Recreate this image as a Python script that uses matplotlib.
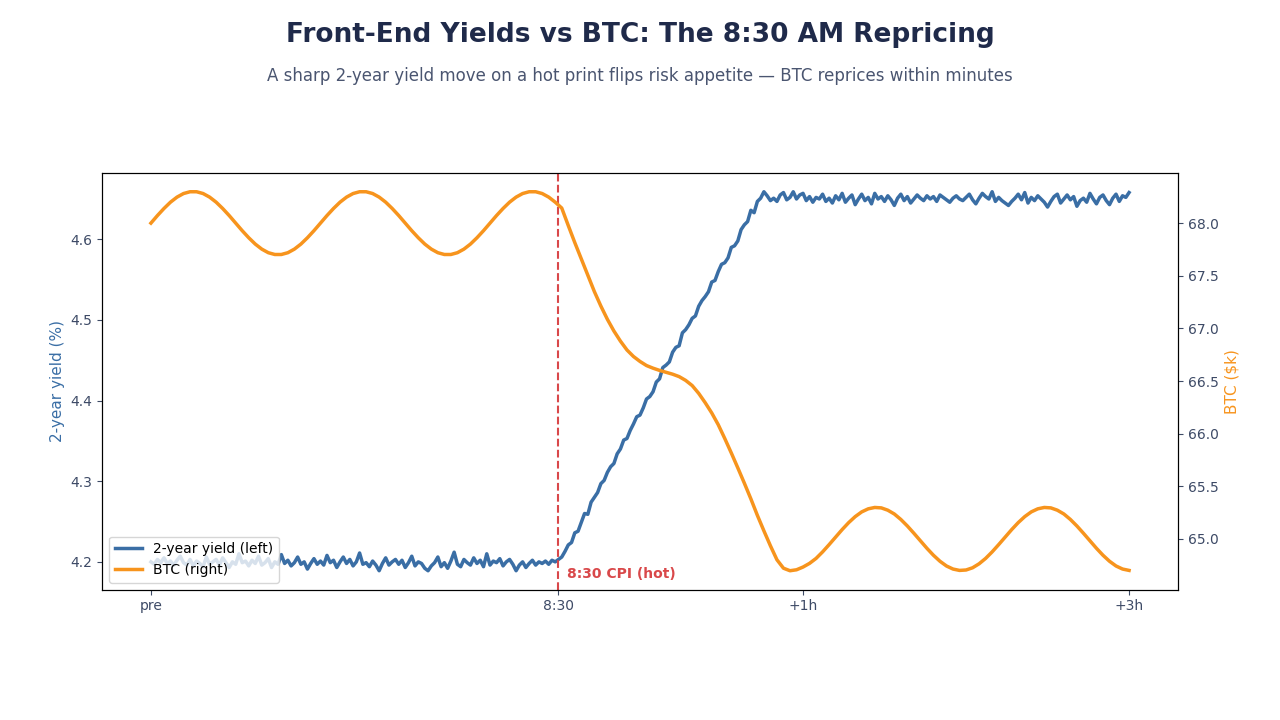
import numpy as np
import matplotlib
matplotlib.use("Agg")
import matplotlib.pyplot as plt

# x positions: index steps, 8:30 print at 125
tick_pos = [0, 125, 200, 300]
tick_labels = ['pre', '8:30', '+1h', '+3h']
cpi_x = 125

# 2-year yield (%), one value per step (x = 0..300)
yield_pre = [4.200, 4.197, 4.203, 4.199, 4.205, 4.198, 4.201, 4.196, 4.202, 4.207,
             4.199, 4.196, 4.203, 4.195, 4.201, 4.198, 4.194, 4.206, 4.197, 4.200,
             4.203, 4.196, 4.205, 4.199, 4.193, 4.200, 4.197, 4.210, 4.199, 4.201,
             4.195, 4.202, 4.198, 4.207, 4.196, 4.199, 4.204, 4.193, 4.200, 4.197,
             4.209, 4.198, 4.202, 4.195, 4.199, 4.206, 4.197, 4.200, 4.191, 4.198,
             4.204, 4.197, 4.201, 4.196, 4.208, 4.199, 4.202, 4.193, 4.200, 4.206,
             4.198, 4.203, 4.195, 4.200, 4.211, 4.197, 4.199, 4.194, 4.201, 4.196,
             4.189, 4.198, 4.205, 4.196, 4.200, 4.203, 4.197, 4.202, 4.193, 4.199,
             4.207, 4.195, 4.200, 4.198, 4.192, 4.189, 4.195, 4.199, 4.206, 4.194,
             4.199, 4.192, 4.201, 4.212, 4.197, 4.194, 4.203, 4.199, 4.196, 4.205,
             4.198, 4.202, 4.194, 4.210, 4.196, 4.201, 4.199, 4.204, 4.195, 4.200,
             4.203, 4.197, 4.189, 4.196, 4.200, 4.193, 4.198, 4.202, 4.196, 4.200,
             4.198, 4.201, 4.197, 4.202, 4.200]
yield_ramp = [4.203, 4.206, 4.213, 4.221, 4.224, 4.236, 4.238, 4.249, 4.260, 4.259,
              4.274, 4.280, 4.286, 4.297, 4.301, 4.311, 4.318, 4.322, 4.334, 4.340,
              4.351, 4.353, 4.363, 4.371, 4.380, 4.382, 4.391, 4.402, 4.405, 4.411,
              4.423, 4.427, 4.441, 4.444, 4.448, 4.460, 4.466, 4.468, 4.484, 4.488,
              4.494, 4.502, 4.505, 4.517, 4.524, 4.529, 4.535, 4.547, 4.549, 4.560,
              4.569, 4.571, 4.577, 4.590, 4.592, 4.598, 4.612, 4.618, 4.622, 4.636,
              4.633, 4.647, 4.651, 4.659]
yield_post = [4.654, 4.648, 4.651, 4.647, 4.655, 4.658, 4.649, 4.652, 4.659, 4.650,
              4.655, 4.657, 4.648, 4.653, 4.646, 4.652, 4.650, 4.656, 4.647, 4.651,
              4.645, 4.654, 4.649, 4.657, 4.646, 4.651, 4.655, 4.643, 4.650, 4.656,
              4.648, 4.652, 4.644, 4.657, 4.650, 4.653, 4.647, 4.654, 4.649, 4.642,
              4.651, 4.656, 4.648, 4.653, 4.645, 4.650, 4.655, 4.651, 4.648, 4.654,
              4.650, 4.653, 4.647, 4.655, 4.652, 4.649, 4.646, 4.651, 4.654, 4.650,
              4.648, 4.652, 4.656, 4.649, 4.644, 4.651, 4.657, 4.653, 4.650, 4.659,
              4.647, 4.652, 4.648, 4.645, 4.642, 4.647, 4.651, 4.656, 4.649, 4.658,
              4.645, 4.652, 4.648, 4.654, 4.650, 4.646, 4.640, 4.647, 4.653, 4.656,
              4.645, 4.650, 4.655, 4.649, 4.653, 4.641, 4.648, 4.651, 4.646, 4.657,
              4.650, 4.644, 4.652, 4.655, 4.648, 4.643, 4.651, 4.656, 4.647, 4.654,
              4.652, 4.658]
yield_vals = yield_pre + yield_ramp + yield_post

# BTC ($k), one value every 2 steps (x = 0..300)
btc_pre = [68.000, 68.072, 68.139, 68.199, 68.247, 68.281, 68.298, 68.298, 68.281, 68.247,
           68.199, 68.139, 68.072, 68.000, 67.928, 67.861, 67.801, 67.753, 67.719, 67.702,
           67.702, 67.719, 67.753, 67.801, 67.861, 67.928,
           68.000, 68.072, 68.139, 68.199, 68.247, 68.281, 68.298, 68.298, 68.281, 68.247,
           68.199, 68.139, 68.072, 68.000, 67.928, 67.861, 67.801, 67.753, 67.719, 67.702,
           67.702, 67.719, 67.753, 67.801, 67.861, 67.928,
           68.000, 68.072, 68.139, 68.199, 68.247, 68.281, 68.298, 68.298, 68.281, 68.247,
           68.199]
btc_drop = [68.143, 67.977, 67.815, 67.660, 67.507, 67.350, 67.212, 67.086, 66.975, 66.879,
            66.795, 66.733, 66.686, 66.647, 66.622, 66.601, 66.583, 66.565, 66.542, 66.506,
            66.457, 66.383, 66.294, 66.197, 66.085, 65.954, 65.817, 65.675, 65.530, 65.381,
            65.224, 65.077, 64.935, 64.802, 64.722, 64.698, 64.707, 64.733, 64.768]
btc_post = [64.815, 64.877, 64.946, 65.018, 65.089, 65.155, 65.212, 65.257, 65.286, 65.299,
            65.295, 65.273, 65.237, 65.185, 65.123, 65.054, 64.982, 64.911, 64.845, 64.788,
            64.743, 64.714, 64.701,
            64.705, 64.726, 64.764, 64.815, 64.877, 64.946, 65.018, 65.089, 65.155, 65.212,
            65.257, 65.286, 65.299, 65.295, 65.273, 65.237, 65.185, 65.123, 65.054, 64.982,
            64.911, 64.845, 64.788, 64.743, 64.714, 64.701]
btc_vals = btc_pre + btc_drop + btc_post

x_yield = np.arange(len(yield_vals))
x_btc = np.arange(len(btc_vals)) * 2

blue = '#3a6ea5'
orange = '#f7941d'
red = '#d9484a'
tick_col = '#3d4a66'

fig = plt.figure(figsize=(12.8, 7.2), dpi=100)
ax = fig.add_axes([0.0797, 0.181, 0.8406, 0.579])
ax2 = ax.twinx()

l1, = ax.plot(x_yield, yield_vals, color=blue, lw=2.5, label='2-year yield (left)')
l2, = ax2.plot(x_btc, btc_vals, color=orange, lw=2.5, label='BTC (right)')

ax.axvline(cpi_x, color=red, ls='--', lw=1.5)
ax.text(cpi_x + 2.5, 4.185, '8:30 CPI (hot)', color=red, fontsize=10,
        fontweight='bold', va='center', ha='left')

ax.set_xticks(tick_pos)
ax.set_xticklabels(tick_labels)
ax.set_ylabel('2-year yield (%)', color=blue, fontsize=11)
ax2.set_ylabel(r'BTC (\$k)', color=orange, fontsize=11)
for a in (ax, ax2):
    a.tick_params(colors=tick_col, labelsize=10)

ax2.legend([l1, l2], [l1.get_label(), l2.get_label()], loc='lower left', fontsize=10)

fig.text(0.5, 0.951, 'Front-End Yields vs BTC: The 8:30 AM Repricing',
         ha='center', va='center', fontsize=19, fontweight='bold', color='#1f2a4a')
fig.text(0.5, 0.895, 'A sharp 2-year yield move on a hot print flips risk appetite \u2014 BTC reprices within minutes',
         ha='center', va='center', fontsize=12, color='#4a5570')

fig.savefig('out.png', dpi=100)
